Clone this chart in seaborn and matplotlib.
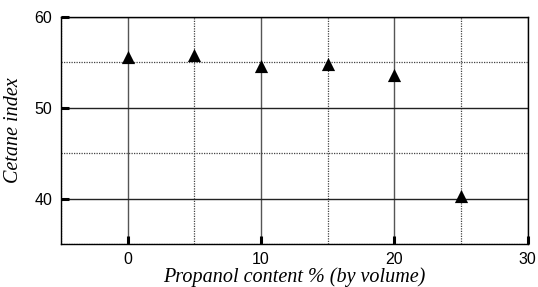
import matplotlib
matplotlib.use("Agg")
import matplotlib.pyplot as plt
import seaborn as sns
import pandas as pd
from matplotlib.ticker import MultipleLocator

# data
propanol = [0, 5, 10, 15, 20, 25]
cetane = [55.6, 55.8, 54.6, 54.8, 53.6, 40.3]
x_ticks = [0, 10, 20, 30]
y_ticks = [40, 50, 60]

df = pd.DataFrame({"propanol": propanol, "cetane": cetane})

sns.set_style("white")
plt.rcParams["font.family"] = ["Liberation Sans", "DejaVu Sans"]
plt.rcParams["text.color"] = "black"

fig, ax = plt.subplots(figsize=(5.38, 2.87), dpi=100)
fig.subplots_adjust(left=0.113, right=0.981, top=0.941, bottom=0.15)

sns.scatterplot(data=df, x="propanol", y="cetane", marker="^", s=90,
                color="black", edgecolor="black", linewidth=0, ax=ax, zorder=5)

ax.set_xlim(-5, 30)
ax.set_ylim(35, 60)
ax.set_xticks(x_ticks)
ax.set_yticks(y_ticks)
ax.xaxis.set_minor_locator(MultipleLocator(5))
ax.yaxis.set_minor_locator(MultipleLocator(5))

ax.grid(which="major", axis="x", color="#555555", linewidth=1.0, linestyle="-")
ax.grid(which="major", axis="y", color="#222222", linewidth=1.0, linestyle="-")
ax.grid(which="minor", color="#444444", linewidth=0.9, linestyle=(0, (1, 1)))
ax.set_axisbelow(True)

ax.tick_params(which="major", direction="in", length=6, width=2.2, color="black",
               labelcolor="black", labelsize=11.5, pad=6, bottom=True, left=True)
ax.tick_params(which="minor", length=0)

for sp in ax.spines.values():
    sp.set_color("black")
    sp.set_linewidth(1.0)

ax.set_xlabel("Propanol content % (by volume)", family=["Liberation Serif"],
              style="italic", fontsize=14.5, labelpad=0, color="black")
ax.set_ylabel("Cetane index", family=["Liberation Serif"],
              style="italic", fontsize=14.5, labelpad=8, color="black")

fig.savefig("out.png", dpi=100)
